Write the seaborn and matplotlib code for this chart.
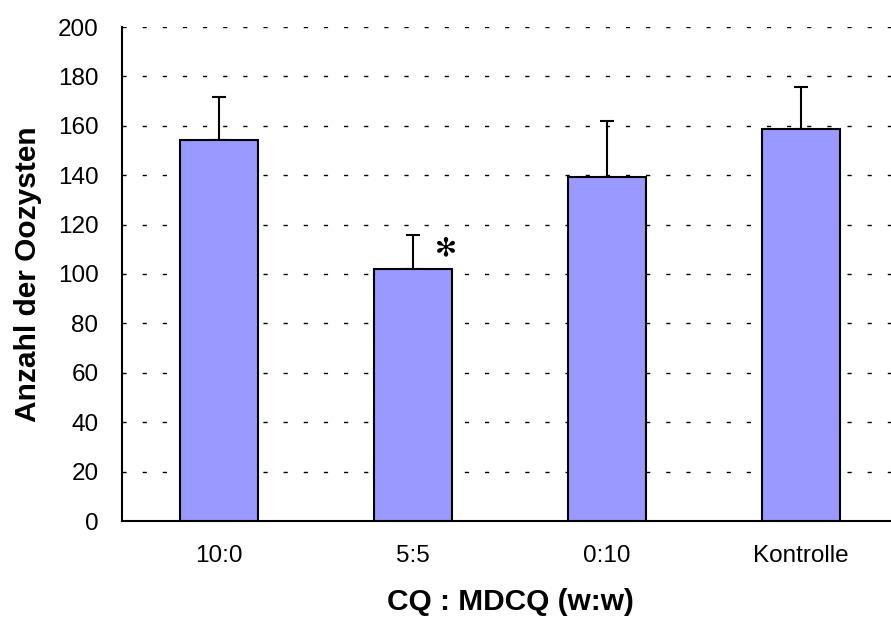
import matplotlib.pyplot as plt
import seaborn as sns
import pandas as pd
import numpy as np

# Data
categories = ['10:0', '5:5', '0:10', 'Kontrolle']
means = [154.3, 101.9, 139.4, 158.6]
upper_err = [17.2, 13.8, 22.4, 17.0]
y_ticks = list(range(0, 201, 20))

sns.set_style('white')
plt.rcParams['font.family'] = ['Liberation Sans', 'DejaVu Sans']
plt.rcParams['text.color'] = 'black'
plt.rcParams['axes.labelcolor'] = 'black'
plt.rcParams['xtick.color'] = 'black'
plt.rcParams['ytick.color'] = 'black'

df = pd.DataFrame({'group': categories, 'count': means})

fig = plt.figure(figsize=(8.91, 6.23), dpi=100)
ax = fig.add_axes([122 / 891, 1 - 521 / 623, 776 / 891, 494 / 623])

sns.barplot(data=df, x='group', y='count', color='#9999FF', saturation=1,
            edgecolor='black', linewidth=1.5, width=0.4, errorbar=None, ax=ax,
            zorder=3)

x = np.arange(len(categories))
ax.errorbar(x, means, yerr=[np.zeros(len(means)), upper_err], fmt='none',
            ecolor='black', elinewidth=1.5, capsize=5, capthick=1.5, zorder=2)

# significance marker above 5:5
ax.text(x[1] + 0.17, means[1] + 8.5, '\u273b', fontsize=19, ha='center', va='center',
        family=['DejaVu Sans'])

ax.set_ylim(0, 200)
ax.set_xlim(-0.5, len(categories) - 0.5)
ax.set_yticks(y_ticks)
ax.yaxis.grid(True, linestyle=(0, (3, 11.5)), color='black', linewidth=1.0)
ax.set_axisbelow(True)

ax.set_xticks(x)
ax.set_xticklabels(categories)
ax.set_xticks(np.arange(-0.5, len(categories), 1.0), minor=True)
ax.tick_params(axis='x', which='major', length=0, pad=17, labelsize=17.5)
ax.tick_params(axis='x', which='minor', length=8, width=1.5, direction='out')
ax.tick_params(axis='y', length=8, width=1.5, direction='out', labelsize=17.5, pad=9)

for side in ['top', 'right']:
    ax.spines[side].set_visible(False)
for side in ['left', 'bottom']:
    ax.spines[side].set_color('black')
    ax.spines[side].set_linewidth(1.5)

ax.set_xlabel('CQ : MDCQ (w:w)', fontsize=21.5, fontweight='bold')
ax.set_ylabel('Anzahl der Oozysten', fontsize=21.5, fontweight='bold')
ax.xaxis.set_label_coords(0.5, -0.135)
ax.yaxis.set_label_coords(-0.103, 0.5)

plt.savefig('out.png', dpi=100)
